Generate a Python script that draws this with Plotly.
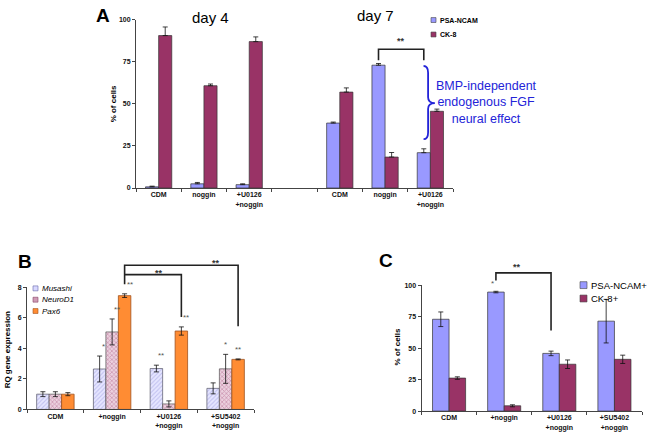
import plotly.graph_objects as go

W, H = 649, 438

# ---------------- data ----------------
# Panel A
a_categories = ["CDM", "noggin", "+U0126<br>+noggin", "", "CDM", "noggin", "+U0126<br>+noggin"]
a_psa = [0.7, 2.5, 2.0, None, 38.6, 73.0, 21.0]
a_psa_err = [0.4, 0.8, 0.5, None, 0.6, 1.0, 2.3]
a_ck8 = [90.6, 60.8, 87.0, None, 57.0, 18.4, 45.6]
a_ck8_err = [5.1, 1.0, 2.8, None, 2.5, 2.7, 1.3]
a_yticks = [0, 25, 50, 75, 100]

# Panel B
b_categories = ["CDM", "+noggin", "+U0126<br>+noggin", "+SU5402<br>+noggin"]
b_musashi = [1.0, 2.65, 2.68, 1.38]
b_musashi_err = [0.16, 0.85, 0.22, 0.36]
b_neurod1 = [1.0, 5.08, 0.36, 2.66]
b_neurod1_err = [0.16, 0.85, 0.2, 0.95]
b_pax6 = [1.0, 7.46, 5.14, 3.28]
b_pax6_err = [0.1, 0.12, 0.27, 0.03]
b_musashi_sig = ["", "*", "**", ""]
b_neurod1_sig = ["", "**", "", "*"]
b_pax6_sig = ["", "**", "**", "**"]
b_yticks = [0, 2, 4, 6, 8]

# Panel C
c_categories = ["CDM", "+noggin", "+U0126<br>+noggin", "+SU5402<br>+noggin"]
c_psa = [72.9, 94.5, 45.8, 71.4]
c_psa_err = [5.8, 0.6, 1.8, 17.3]
c_ck8 = [26.2, 4.2, 37.2, 41.1]
c_ck8_err = [1.0, 0.8, 3.4, 3.3]
c_psa_sig = ["", "*", "", ""]
c_yticks = [0, 25, 50, 75, 100]

# ---------------- layout geometry (pixels) ----------------
PANELS = {
    "a": dict(px=(136, 453), py=(187, 16), xr=(-0.5, 6.5), yr=(0, 100)),
    "b": dict(px=(27, 254), py=(412, 288), xr=(-0.5, 3.5), yr=(0, 8)),
    "c": dict(px=(421.5, 642), py=(413.7, 285.7), xr=(-0.5, 3.5), yr=(0, 100)),
}


def dom_x(p):
    return [PANELS[p]["px"][0] / W, PANELS[p]["px"][1] / W]


def dom_y(p):
    return [1 - PANELS[p]["py"][0] / H, 1 - PANELS[p]["py"][1] / H]


def to_paper(p, xv, yv):
    P = PANELS[p]
    fx = (xv - P["xr"][0]) / (P["xr"][1] - P["xr"][0])
    fy = (yv - P["yr"][0]) / (P["yr"][1] - P["yr"][0])
    xpx = P["px"][0] + fx * (P["px"][1] - P["px"][0])
    ypx = P["py"][0] + fy * (P["py"][1] - P["py"][0])
    return xpx / W, 1 - ypx / H


def ppx(x, y):
    return x / W, 1 - y / H


FONT = "Liberation Sans, Arial, sans-serif"
PSA_COL = "#9999ff"
CK8_COL = "#993366"
EDGE = "#333333"
MUS_COL = "#d8d8ff"
NEU_COL = "#cf9ab6"
PAX_COL = "#ff8c33"

fig = go.Figure()


def err(arr, minus=None):
    d = dict(type="data", array=[0 if v is None else v for v in arr], color="#111111",
             thickness=0.8, width=2.5, visible=True)
    if minus is not None:
        d["symmetric"] = False
        d["arrayminus"] = minus
    return d


# ---- Panel A bars ----
a_idx = [i for i, c in enumerate(a_categories) if c]
AW = 0.29
fig.add_trace(go.Bar(
    x=a_idx, y=[a_psa[i] for i in a_idx], name="PSA-NCAM",
    width=AW, offset=-AW, xaxis="x", yaxis="y",
    marker=dict(color=PSA_COL, line=dict(color=EDGE, width=0.7)),
    error_y=err([a_psa_err[i] for i in a_idx], [0] * len(a_idx))))
fig.add_trace(go.Bar(
    x=a_idx, y=[a_ck8[i] for i in a_idx], name="CK-8",
    width=AW, offset=0, xaxis="x", yaxis="y",
    marker=dict(color=CK8_COL, line=dict(color=EDGE, width=0.7)),
    error_y=err([a_ck8_err[i] for i in a_idx], [0] * len(a_idx))))

# ---- Panel B bars ----
b_x = list(range(len(b_categories)))
BW = 0.22
fig.add_trace(go.Bar(
    x=b_x, y=b_musashi, name="Musashi", width=BW, offset=-1.5 * BW,
    xaxis="x2", yaxis="y2",
    marker=dict(color=MUS_COL, line=dict(color="#555566", width=0.7),
                pattern=dict(shape="/", fgcolor="#9c9ce0", bgcolor="#e6e6ff", size=3, solidity=0.35)),
    error_y=err(b_musashi_err)))
fig.add_trace(go.Bar(
    x=b_x, y=b_neurod1, name="NeuroD1", width=BW, offset=-0.5 * BW,
    xaxis="x2", yaxis="y2",
    marker=dict(color=NEU_COL, line=dict(color="#555555", width=0.7),
                pattern=dict(shape="x", fgcolor="#a8507e", bgcolor="#ebd0de", size=3, solidity=0.4)),
    error_y=err(b_neurod1_err)))
fig.add_trace(go.Bar(
    x=b_x, y=b_pax6, name="Pax6", width=BW, offset=0.5 * BW,
    xaxis="x2", yaxis="y2",
    marker=dict(color=PAX_COL, line=dict(color="#a0521e", width=0.8)),
    error_y=err(b_pax6_err)))

# ---- Panel C bars ----
c_x = list(range(len(c_categories)))
CW = 0.30
fig.add_trace(go.Bar(
    x=c_x, y=c_psa, name="PSA-NCAM+", width=CW, offset=-CW,
    xaxis="x3", yaxis="y3",
    marker=dict(color=PSA_COL, line=dict(color=EDGE, width=0.7)),
    error_y=err(c_psa_err)))
fig.add_trace(go.Bar(
    x=c_x, y=c_ck8, name="CK-8+", width=CW, offset=0,
    xaxis="x3", yaxis="y3",
    marker=dict(color=CK8_COL, line=dict(color=EDGE, width=0.7)),
    error_y=err(c_ck8_err)))

fig.update_traces(showlegend=False)

# ---------------- axes ----------------
tickfont = dict(family=FONT, size=7, color="#111111", weight="bold")


def xaxis_cfg(p, cats):
    n = len(cats)
    return dict(domain=dom_x(p), range=list(PANELS[p]["xr"]), tickmode="array",
                tickvals=list(range(n)), ticktext=cats, ticks="", showline=True,
                linecolor="#444444", linewidth=1, showgrid=False, zeroline=False,
                tickfont=tickfont, fixedrange=True,
                minor=dict(tickmode="array", tickvals=[i - 0.5 for i in range(n + 1)],
                           ticks="outside", ticklen=3, tickcolor="#444444", showgrid=False))


def yaxis_cfg(p, ticks):
    return dict(domain=dom_y(p), range=list(PANELS[p]["yr"]), tickmode="array",
                tickvals=ticks, ticks="outside", ticklen=3, tickcolor="#444444",
                showline=True, linecolor="#444444", linewidth=1, showgrid=False,
                zeroline=False, tickfont=tickfont, fixedrange=True)


fig.update_layout(
    xaxis=dict(xaxis_cfg("a", a_categories), anchor="y"),
    yaxis=dict(yaxis_cfg("a", a_yticks), anchor="x"),
    xaxis2=dict(xaxis_cfg("b", b_categories), anchor="y2"),
    yaxis2=dict(yaxis_cfg("b", b_yticks), anchor="x2"),
    xaxis3=dict(xaxis_cfg("c", c_categories), anchor="y3"),
    yaxis3=dict(yaxis_cfg("c", c_yticks), anchor="x3"),
)

# ---------------- annotations ----------------
ann = []
shapes = []


def text(xy, s, size, bold=False, color="#000000", angle=0, italic=False, xanchor="center", yanchor="middle"):
    ann.append(dict(x=xy[0], y=xy[1], xref="paper", yref="paper", text=s, showarrow=False,
                    textangle=angle, xanchor=xanchor, yanchor=yanchor,
                    font=dict(family=FONT, size=size, color=color,
                              weight="bold" if bold else "normal",
                              style="italic" if italic else "normal")))


text(ppx(103, 12), "A", 19, bold=True)
text(ppx(210, 14), "day 4", 15)
text(ppx(375, 12), "day 7", 15)
text(ppx(25, 262), "B", 19, bold=True)
text(ppx(386, 261), "C", 19, bold=True)
text(ppx(113, 102), "% of cells", 8, bold=True, angle=-90)
text(ppx(7, 352), "RQ gene expression", 8, bold=True, angle=-90)
text(ppx(397, 349), "% of cells", 8, bold=True, angle=-90)
text(ppx(486, 100), "BMP-independent<br>endogenous FGF<br>neural effect", 12.5, color="#2323d8")


# ---- manual legends (swatch + label) ----
def legend_item(xs, yc, size, color, label, fsize, bold=False, italic=False, edge="#444444"):
    x0, y0 = ppx(xs, yc - size / 2)
    x1, y1 = ppx(xs + size, yc + size / 2)
    shapes.append(dict(type="rect", xref="paper", yref="paper", x0=x0, x1=x1, y0=y0, y1=y1,
                       fillcolor=color, line=dict(color=edge, width=0.6)))
    text(ppx(xs + size + 1.5, yc), label, fsize, bold=bold, italic=italic, xanchor="left")


legend_item(431, 16.3, 5, PSA_COL, "PSA-NCAM", 7, bold=True)
legend_item(431, 31, 5, CK8_COL, "CK-8", 7, bold=True)
legend_item(33, 289, 5, MUS_COL, "Musashi", 8, italic=True, edge="#6666aa")
legend_item(33, 300.5, 5, NEU_COL, "NeuroD1", 8, italic=True, edge="#884466")
legend_item(33, 312, 5, PAX_COL, "Pax6", 8, italic=True, edge="#a0521e")
legend_item(580, 285.7, 7, PSA_COL, "PSA-NCAM+", 9.5)
legend_item(580, 299.3, 7, CK8_COL, "CK-8+", 9.5)

# significance stars in panel B
for vals, errs, sig, off in [(b_musashi, b_musashi_err, b_musashi_sig, -BW),
                             (b_neurod1, b_neurod1_err, b_neurod1_sig, 0),
                             (b_pax6, b_pax6_err, b_pax6_sig, BW)]:
    for i, s in enumerate(sig):
        if s:
            xx, yy = to_paper("b", i + off, vals[i] + errs[i])
            ann.append(dict(x=xx, y=yy, xref="paper", yref="paper", text=s, showarrow=False,
                            yanchor="bottom", yshift=3,
                            font=dict(family=FONT, size=8, color="#555555")))
for i, s in enumerate(c_psa_sig):
    if s:
        xx, yy = to_paper("c", i - CW / 2, c_psa[i] + c_psa_err[i])
        ann.append(dict(x=xx, y=yy, xref="paper", yref="paper", text=s, showarrow=False,
                        yanchor="bottom", yshift=1,
                        font=dict(family=FONT, size=8, color="#555555")))

# bracket labels (centre of the "**" text box)
for p, xv, yv in [("a", 5.35, 87.5), ("b", 1.72, 8.97), ("b", 2.73, 9.62), ("c", 1.34, 114.5)]:
    xx, yy = to_paper(p, xv, yv)
    ann.append(dict(x=xx, y=yy, xref="paper", yref="paper", text="**", showarrow=False,
                    yanchor="middle", font=dict(family=FONT, size=9, color="#333333", weight="bold")))


# ---------------- bracket shapes ----------------
def path_from(p, pts, color="#222222", width=1.6):
    coords = [to_paper(p, x, y) for x, y in pts]
    d = "M " + " L ".join(f"{x:.5f},{y:.5f}" for x, y in coords)
    shapes.append(dict(type="path", path=d, xref="paper", yref="paper",
                       line=dict(color=color, width=width)))


# A: noggin vs +U0126 (day 7), PSA-NCAM bars
path_from("a", [(5 - AW / 2, 76), (5 - AW / 2, 82.5), (6 - AW / 2, 82.5), (6 - AW / 2, 76)])
# B: +noggin Pax6 vs +U0126 / +SU5402 Pax6
path_from("b", [(1 + BW, 8.2), (1 + BW, 9.45), (3 + BW, 9.45), (3 + BW, 5.45)])
path_from("b", [(1 + BW, 8.84), (2 + BW, 8.84), (2 + BW, 6.06)])
# C: +noggin vs +U0126 PSA-NCAM
path_from("c", [(1 - CW / 2, 103.7), (1 - CW / 2, 109.7), (2 - CW / 2, 109.7), (2 - CW / 2, 64)])

# blue curly brace in panel A (data units of panel A)
bx0, bx1, bxm = 5.85, 5.95, 6.10
yt, ym, yb = 72.5, 50.5, 29.0
q = lambda x, y: "{:.5f},{:.5f}".format(*to_paper("a", x, y))
brace = (f"M {q(bx0, yt)} Q {q(bx1, yt)} {q(bx1, yt - 4)} L {q(bx1, ym + 3.5)} "
         f"Q {q(bx1, ym)} {q(bxm, ym)} Q {q(bx1, ym)} {q(bx1, ym - 3.5)} "
         f"L {q(bx1, yb + 4)} Q {q(bx1, yb)} {q(bx0, yb)}")
shapes.append(dict(type="path", path=brace, xref="paper", yref="paper",
                   line=dict(color="#2323d8", width=1.8)))

fig.update_layout(
    width=W, height=H, margin=dict(l=0, r=0, t=0, b=0, pad=0),
    paper_bgcolor="white", plot_bgcolor="white", showlegend=False,
    barmode="group", annotations=ann, shapes=shapes,
    font=dict(family=FONT, color="#111111"),
)

fig.write_html("out.html", config={"displayModeBar": False},
               post_script="document.body.style.margin='0';document.body.style.overflow='hidden';")
